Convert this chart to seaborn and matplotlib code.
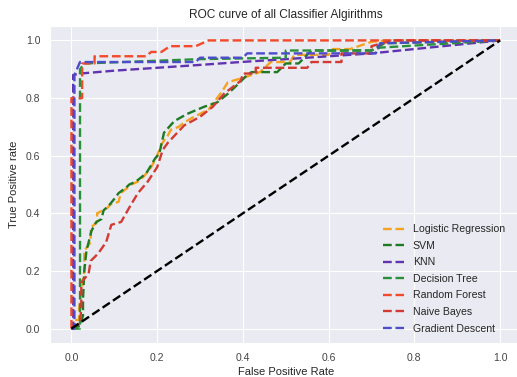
import matplotlib
matplotlib.use('Agg')
import matplotlib.pyplot as plt
import pandas as pd
import seaborn as sns

# ROC points (fpr, tpr)
lr_roc = [(0, 0), (0.007, 0), (0.007, 0.03), (0.018, 0.03), (0.018, 0.07),
          (0.03, 0.2), (0.03, 0.27), (0.045, 0.3), (0.045, 0.35), (0.06, 0.37),
          (0.06, 0.4), (0.085, 0.42), (0.09, 0.43), (0.11, 0.44), (0.115, 0.47),
          (0.14, 0.5), (0.155, 0.51), (0.17, 0.53), (0.186, 0.56), (0.2, 0.6),
          (0.21, 0.64), (0.225, 0.67), (0.232, 0.69), (0.25, 0.7), (0.263, 0.715),
          (0.28, 0.73), (0.3, 0.745), (0.32, 0.76), (0.35, 0.82), (0.365, 0.855),
          (0.4, 0.87), (0.44, 0.89), (0.465, 0.925), (0.51, 0.925), (0.52, 0.95),
          (0.6, 0.95), (0.61, 0.97), (0.65, 0.97), (0.7, 0.995), (0.74, 1.0), (1.0, 1.0)]
svm_roc = [(0, 0), (0.02, 0.01), (0.027, 0.045), (0.027, 0.1), (0.03, 0.2),
           (0.035, 0.27), (0.047, 0.34), (0.058, 0.37), (0.07, 0.38), (0.075, 0.41),
           (0.089, 0.43), (0.1, 0.45), (0.11, 0.47), (0.128, 0.49), (0.135, 0.5),
           (0.15, 0.51), (0.163, 0.525), (0.175, 0.54), (0.186, 0.567), (0.195, 0.59),
           (0.205, 0.607), (0.216, 0.68), (0.24, 0.72), (0.27, 0.745), (0.31, 0.77),
           (0.34, 0.785), (0.365, 0.815), (0.39, 0.85), (0.41, 0.88), (0.42, 0.89),
           (0.48, 0.89), (0.5, 0.92), (0.53, 0.92), (0.56, 0.965), (0.7, 0.965),
           (0.73, 0.99), (1.0, 1.0)]
knn_roc = [(0, 0), (0.004, 0), (0.004, 0.88), (0.02, 0.885), (0.1, 0.895),
           (0.2, 0.905), (0.3, 0.915), (0.395, 0.925), (0.5, 0.935), (0.6, 0.945),
           (0.7, 0.955), (0.8, 0.97), (0.9, 0.985), (1.0, 1.0)]
dt_roc = [(0, 0), (0.02, 0), (0.02, 0.9), (0.03, 0.92), (0.3, 0.935), (0.5, 0.94),
          (0.5, 0.965), (0.7, 0.965), (0.72, 0.975), (1.0, 1.0)]
rf_roc = [(0, 0), (0, 0.8), (0.025, 0.8), (0.025, 0.92), (0.054, 0.92),
          (0.054, 0.945), (0.174, 0.945), (0.186, 0.96), (0.21, 0.96), (0.23, 0.98),
          (0.29, 0.98), (0.32, 1.0), (1.0, 1.0)]
nb_roc = [(0, 0), (0.02, 0.02), (0.023, 0.07), (0.023, 0.16), (0.04, 0.19),
          (0.045, 0.235), (0.062, 0.26), (0.081, 0.3), (0.093, 0.36), (0.116, 0.37),
          (0.135, 0.42), (0.155, 0.47), (0.178, 0.51), (0.2, 0.56), (0.213, 0.62),
          (0.225, 0.645), (0.263, 0.705), (0.3, 0.735), (0.33, 0.77), (0.356, 0.815),
          (0.395, 0.86), (0.4, 0.885), (0.43, 0.885), (0.43, 0.905), (0.55, 0.905),
          (0.56, 0.925), (0.63, 0.925), (0.63, 0.955), (0.7, 0.955), (0.7, 0.98),
          (0.75, 1.0), (1.0, 1.0)]
gd_roc = [(0, 0), (0.007, 0), (0.007, 0.88), (0.02, 0.925), (0.29, 0.925),
          (0.3, 0.94), (0.4, 0.94), (0.41, 0.955), (0.71, 0.955), (0.72, 0.99),
          (1.0, 1.0)]

names = ['Logistic Regression', 'SVM', 'KNN', 'Decision Tree',
         'Random Forest', 'Naive Bayes', 'Gradient Descent']
curves = [lr_roc, svm_roc, knn_roc, dt_roc, rf_roc, nb_roc, gd_roc]
colors = ['#f5a31f', '#1f7a24', '#6034b0', '#2a8f3a',
          '#f24a2a', '#d23a32', '#4d4dcc']

sns.set_style('darkgrid')
plt.rcParams['font.family'] = ['Liberation Sans', 'DejaVu Sans']

fig = plt.figure(figsize=(5.17, 3.77), dpi=100)
ax = fig.add_axes([50 / 517, 34 / 377, 471.5 / 517, 317 / 377])

for nome, pts, cor in zip(names, curves, colors):
    df = pd.DataFrame(pts, columns=['fpr', 'tpr'])
    sns.lineplot(data=df, x='fpr', y='tpr', sort=False, estimator=None,
                 color=cor, linestyle='--', linewidth=1.7, label=nome, ax=ax)

diag = pd.DataFrame({'fpr': [0, 1], 'tpr': [0, 1]})
sns.lineplot(data=diag, x='fpr', y='tpr', color='black', linestyle='--',
             linewidth=1.7, ax=ax)

ax.set_xlim(-0.05, 1.05)
ax.set_ylim(-0.05, 1.05)
ax.set_title('ROC curve of all Classifier Algirithms', fontsize=8.6)
ax.set_xlabel('False Positive Rate', fontsize=8, labelpad=3)
ax.set_ylabel('True Positive rate', fontsize=8, labelpad=5)
ax.tick_params(labelsize=7.5, colors='#444444')
ax.legend(loc='lower right', fontsize=7.6, frameon=False,
          labelspacing=0.62, handlelength=2.0,
          bbox_to_anchor=(0.985, 0.0))

fig.savefig('out.png', dpi=100)
